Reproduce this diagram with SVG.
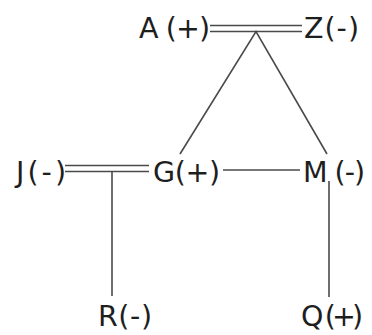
<svg xmlns="http://www.w3.org/2000/svg" width="372" height="335" viewBox="0 0 372 335">
<style>
.lbl{font-family:"DejaVu Sans","Liberation Sans",sans-serif;font-size:28.5px;fill:#1e1e1e}
.ln{stroke:#4a4a4a;stroke-width:1.6;fill:none}
</style>
<rect width="372" height="335" fill="#fff"/>
<g id="connectors">
<line class="ln" x1="210" y1="25.5" x2="302" y2="25.5"/>
<line class="ln" x1="210" y1="31.5" x2="302" y2="31.5"/>
<polyline class="ln" points="180,154 256,31.5 327,154"/>
<line class="ln" x1="65" y1="165.5" x2="149" y2="165.5"/>
<line class="ln" x1="65" y1="171.5" x2="149" y2="171.5"/>
<line class="ln" x1="112" y1="171.5" x2="112" y2="296"/>
<line class="ln" x1="223" y1="170" x2="300" y2="170"/>
<line class="ln" x1="329" y1="181" x2="329" y2="297"/>
</g>
<g id="A"><text class="lbl" x="139" y="38" textLength="71" lengthAdjust="spacing">A (+)</text></g>
<g id="Z"><text class="lbl" x="304" y="38" textLength="55" lengthAdjust="spacing">Z(-)</text></g>
<g id="J"><text class="lbl" x="16" y="182" textLength="50" lengthAdjust="spacing">J(-)</text></g>
<g id="G"><text class="lbl" x="153" y="182" textLength="67" lengthAdjust="spacing">G(+)</text></g>
<g id="M"><text class="lbl" x="303" y="182" textLength="62" lengthAdjust="spacing">M (-)</text></g>
<g id="R"><text class="lbl" x="98" y="326" textLength="54" lengthAdjust="spacing">R(-)</text></g>
<g id="Q"><text class="lbl" x="301" y="326" textLength="62" lengthAdjust="spacing">Q (+)</text></g>
</svg>
